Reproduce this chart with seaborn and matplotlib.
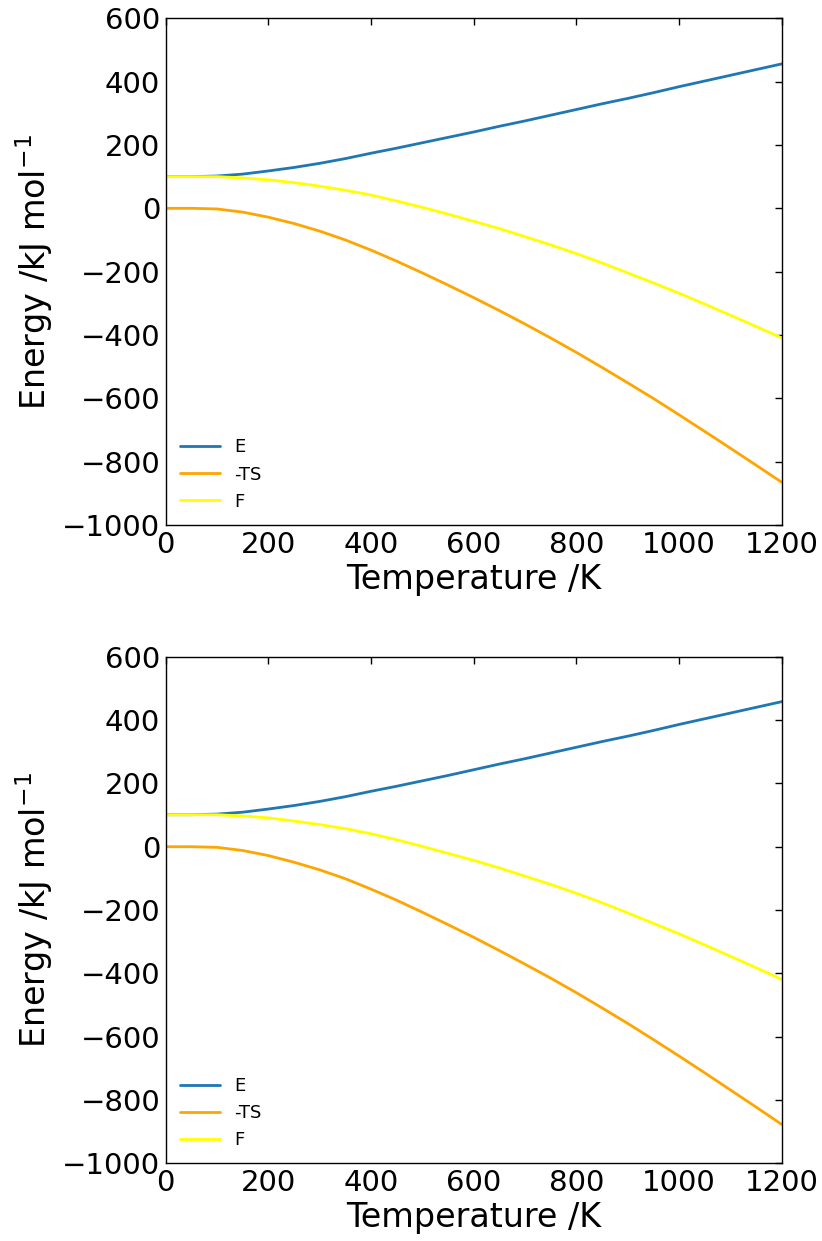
import numpy as np
import pandas as pd
import matplotlib
matplotlib.use("Agg")
import matplotlib.pyplot as plt
import seaborn as sns

# Temperature grid (K)
temperature = [0, 50, 100, 150, 200, 250, 300, 350, 400, 450, 500, 550, 600,
               650, 700, 750, 800, 850, 900, 950, 1000, 1050, 1100, 1150, 1200]

# Upper panel: internal energy, entropic term and free energy (kJ/mol)
energy_a = [100, 100, 102, 108, 118, 129, 142, 157, 174, 190, 207, 224, 241,
            259, 276, 294, 312, 330, 347, 365, 384, 402, 420, 438, 456]
minus_ts_a = [0, 0, -2, -12, -28, -48, -72, -100, -132, -167, -204, -242.5, -282,
              -323, -365.5, -409.5, -455, -502.5, -551, -600.5, -652, -704.5, -757.5, -811, -865]
free_a = [100, 100, 100, 96, 90, 81, 70, 57, 42, 23, 3, -18.5, -41,
          -64, -89.5, -115.5, -143, -172.5, -204, -235.5, -268, -302.5, -337.5, -373, -409]

# Lower panel
energy_b = [101, 101, 103, 109, 119, 130, 143, 158, 175, 191, 208, 225, 243,
            261, 278, 296, 314, 332, 349, 367, 386, 404, 422, 440, 458]
minus_ts_b = [0, 0, -2, -12, -28, -49, -73, -101, -134, -169, -207, -246, -286,
              -328, -371, -415, -461, -509, -558, -609, -661, -714, -768, -822, -877]
free_b = [101, 101, 101, 97, 91, 81, 70, 57, 41, 22, 1, -21, -43,
          -67, -93, -119, -147, -177, -209, -242, -275, -310, -346, -382, -419]

series_names = ["E", "-TS", "F"]
series_colors = {"E": "#1f77b4", "-TS": "#ffa500", "F": "#ffff00"}

xticks = [0, 200, 400, 600, 800, 1000, 1200]
yticks = [-1000, -800, -600, -400, -200, 0, 200, 400, 600]

sns.set_style("white")
plt.rcParams["font.family"] = ["DejaVu Sans"]
plt.rcParams["mathtext.default"] = "regular"
plt.rcParams["text.color"] = "black"
plt.rcParams["axes.labelcolor"] = "black"


def long_frame(e, mts, f):
    parts = []
    for name, vals in zip(series_names, (e, mts, f)):
        parts.append(pd.DataFrame({"T": temperature, "value": vals, "series": name}))
    return pd.concat(parts, ignore_index=True)


fig = plt.figure(figsize=(8.22, 12.41), dpi=100)
W, H = 822, 1241
left, right = 165.7 / W, 781.7 / W
ax_top = fig.add_axes([left, 1 - 525.0 / H, right - left, (525.0 - 18.3) / H])
ax_bot = fig.add_axes([left, 1 - 1163.4 / H, right - left, (1163.4 - 656.7) / H])

for ax, data in ((ax_top, long_frame(energy_a, minus_ts_a, free_a)),
                 (ax_bot, long_frame(energy_b, minus_ts_b, free_b))):
    sns.lineplot(data=data, x="T", y="value", hue="series", hue_order=series_names,
                 palette=series_colors, linewidth=2.0, ax=ax, legend=False)
    ax.set_xlim(0, 1200)
    ax.set_ylim(-1000, 600)
    ax.set_xticks(xticks)
    ax.set_yticks(yticks)
    ax.tick_params(direction="in", top=True, right=True, length=5, width=1,
                   labelsize=21, colors="black", pad=4)
    for sp in ax.spines.values():
        sp.set_visible(True)
        sp.set_color("black")
        sp.set_linewidth(1.0)
    ax.set_xlabel("Temperature /K", fontsize=24, labelpad=3, color="black")
    ax.set_ylabel("Energy /kJ mol$^{-1}$", fontsize=24, labelpad=5, color="black")
    handles = [plt.Line2D([], [], color=series_colors[n], linewidth=2) for n in series_names]
    leg = ax.legend(handles, series_names, loc="lower left", frameon=False, fontsize=13,
                    handlelength=2.2, borderaxespad=0.4, labelspacing=0.5)
    for t in leg.get_texts():
        t.set_color("black")

fig.savefig("out.png", dpi=100)
